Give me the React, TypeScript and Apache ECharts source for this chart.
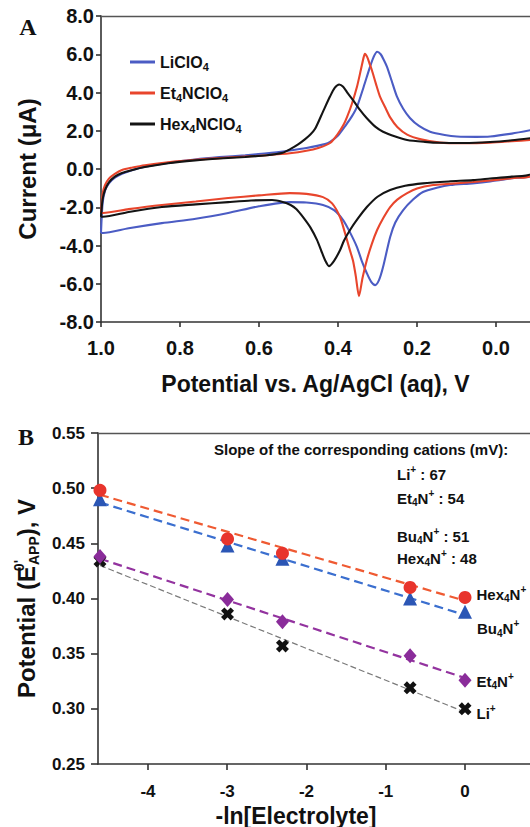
import React, { useEffect, useRef } from 'react';
import * as echarts from 'echarts';

const FONT = '"Liberation Sans", Arial, Helvetica, sans-serif';
const SERIF = '"Liberation Serif", "Times New Roman", serif';

// ---------- Panel A : cyclic voltammograms ----------
const cvTicks = [1.0, 0.8, 0.6, 0.4, 0.2, 0.0];
const cvLegend = ['LiClO4', 'Et4NClO4', 'Hex4NClO4'];

// upper branches (V, µA), from 1.0 V towards -0.09 V
const liUpper = [[1.0,-3.35],[0.996,-1.8],[0.99,-1.15],[0.98,-0.75],[0.965,-0.45],[0.947,-0.25],[0.92,-0.05],[0.889,0.12],[0.83,0.32],[0.762,0.5],[0.7,0.62],[0.635,0.72],[0.58,0.82],[0.522,0.97],[0.48,1.1],[0.433,1.3],[0.42,1.42],[0.4,1.75],[0.38,2.3],[0.365,2.75],[0.352,3.25],[0.335,4.3],[0.319,5.34],[0.31,5.85],[0.301,6.13],[0.292,6.0],[0.284,5.7],[0.276,5.34],[0.264,4.6],[0.251,3.8],[0.235,3.15],[0.218,2.67],[0.195,2.25],[0.167,1.95],[0.13,1.78],[0.099,1.7],[0.05,1.68],[0.015,1.7],[-0.04,1.85],[-0.09,2.04]];
const etUpper = [[1.0,-2.3],[0.996,-1.3],[0.99,-0.85],[0.98,-0.5],[0.965,-0.25],[0.947,-0.05],[0.92,0.08],[0.889,0.2],[0.83,0.35],[0.762,0.48],[0.7,0.57],[0.635,0.65],[0.58,0.72],[0.522,0.82],[0.48,0.95],[0.45,1.1],[0.42,1.36],[0.4,1.85],[0.385,2.35],[0.377,2.72],[0.365,3.4],[0.352,4.3],[0.342,5.2],[0.335,5.85],[0.332,6.02],[0.326,5.85],[0.32,5.5],[0.314,5.15],[0.304,4.45],[0.294,3.8],[0.28,3.2],[0.268,2.7],[0.25,2.2],[0.225,1.8],[0.19,1.55],[0.142,1.38],[0.08,1.35],[0.015,1.38],[-0.04,1.45],[-0.09,1.52]];
const hexUpper = [[1.0,-2.5],[0.996,-1.6],[0.99,-1.1],[0.98,-0.7],[0.965,-0.4],[0.947,-0.21],[0.92,-0.05],[0.889,0.1],[0.83,0.3],[0.762,0.45],[0.7,0.55],[0.635,0.63],[0.58,0.72],[0.54,0.85],[0.52,1.05],[0.5,1.3],[0.484,1.55],[0.47,1.8],[0.458,2.1],[0.438,3.0],[0.42,3.8],[0.408,4.25],[0.397,4.42],[0.387,4.3],[0.375,3.95],[0.362,3.6],[0.345,3.1],[0.327,2.65],[0.305,2.2],[0.286,1.95],[0.255,1.7],[0.225,1.52],[0.18,1.42],[0.142,1.37],[0.08,1.36],[0.015,1.41],[-0.04,1.5],[-0.09,1.62]];

// lower branches (V, µA), from -0.09 V back to 1.0 V
const liLower = [[-0.09,-0.3],[-0.04,-0.48],[0.015,-0.65],[0.06,-0.75],[0.116,-0.84],[0.15,-0.98],[0.185,-1.2],[0.21,-1.6],[0.235,-2.15],[0.255,-2.8],[0.268,-3.56],[0.286,-5.13],[0.296,-5.8],[0.306,-6.07],[0.316,-5.9],[0.327,-5.45],[0.34,-4.8],[0.352,-4.08],[0.37,-3.3],[0.387,-2.67],[0.41,-2.15],[0.438,-1.88],[0.48,-1.75],[0.522,-1.73],[0.6,-1.95],[0.678,-2.3],[0.76,-2.6],[0.846,-2.83],[0.93,-3.1],[0.995,-3.35],[1.0,-3.35]];
const etLower = [[-0.09,-0.3],[-0.04,-0.48],[0.015,-0.6],[0.058,-0.68],[0.12,-0.78],[0.159,-0.84],[0.2,-1.02],[0.225,-1.26],[0.25,-1.6],[0.268,-1.99],[0.285,-2.55],[0.301,-3.19],[0.315,-3.95],[0.327,-4.76],[0.338,-5.7],[0.347,-6.65],[0.355,-5.6],[0.362,-4.8],[0.37,-4.24],[0.383,-3.3],[0.395,-2.51],[0.415,-1.8],[0.438,-1.47],[0.48,-1.3],[0.522,-1.26],[0.6,-1.38],[0.678,-1.52],[0.76,-1.7],[0.846,-1.88],[0.93,-2.1],[0.995,-2.3],[1.0,-2.3]];
const hexLower = [[-0.09,-0.2],[-0.04,-0.4],[0.015,-0.5],[0.058,-0.58],[0.12,-0.65],[0.185,-0.75],[0.23,-0.88],[0.268,-1.1],[0.3,-1.45],[0.327,-1.99],[0.35,-2.6],[0.37,-3.2],[0.385,-3.75],[0.395,-4.25],[0.41,-4.8],[0.423,-5.08],[0.432,-4.8],[0.442,-4.3],[0.453,-3.72],[0.47,-3.05],[0.489,-2.5],[0.505,-2.1],[0.52,-1.88],[0.54,-1.72],[0.567,-1.62],[0.62,-1.65],[0.678,-1.73],[0.76,-1.85],[0.846,-1.99],[0.93,-2.25],[0.995,-2.5],[1.0,-2.5]];

// ---------- Panel B : E0'app vs -ln[electrolyte] ----------
const lnConc = [-4.605, -2.996, -2.303, -0.693, 0];
const xTicksB = [-4, -3, -2, -1, 0];
const hexE = [0.498, 0.454, 0.441, 0.410, 0.401];
const buE = [0.490, 0.448, 0.436, 0.400, 0.388];
const etE = [0.438, 0.399, 0.379, 0.348, 0.326];
const liE = [0.434, 0.386, 0.357, 0.319, 0.300];
const fitX = [-4.605, 0];
const hexFit = [0.494, 0.398];
const buFit = [0.487, 0.385];
const etFit = [0.436, 0.328];
const liFit = [0.430, 0.297];
const slopeLabels = [
  ['Li', '', '67'],
  ['Et', '4', '54'],
  ['Bu', '4', '51'],
  ['Hex', '4', '48'],
];

const CROSS = 'path://M0,2.6L2.6,0L5,2.4L7.4,0L10,2.6L7.6,5L10,7.4L7.4,10L5,7.6L2.6,10L0,7.4L2.4,5Z';

const axisLineStyle = { color: '#333', width: 1.6 };

function buildOption() {
  const legendRich = {
    m: { fontSize: 16, fontWeight: 'bold', color: '#111', fontFamily: FONT },
    s: { fontSize: 11, fontWeight: 'bold', color: '#111', fontFamily: FONT, padding: [9, 0, 0, 0] },
  };
  const legendFmt = (n: string) =>
    n.split(/(\d)/).filter((t) => t !== '').map((t) => (/\d/.test(t) ? `{s|${t}}` : `{m|${t}}`)).join('');

  const annRich = {
    m: { fontSize: 15, fontWeight: 'bold', fill: '#111', fontFamily: FONT },
    s: { fontSize: 10, fontWeight: 'bold', fill: '#111', fontFamily: FONT, padding: [9, 0, 0, 0] },
    p: { fontSize: 10, fontWeight: 'bold', fill: '#111', fontFamily: FONT, padding: [0, 0, 10, 0] },
  };
  const lblRich = {
    m: { fontSize: 15, fontWeight: 'bold', color: '#111', fontFamily: FONT, textBorderWidth: 0 },
    s: { fontSize: 10, fontWeight: 'bold', color: '#111', fontFamily: FONT, padding: [9, 0, 0, 0], textBorderWidth: 0 },
    p: { fontSize: 10, fontWeight: 'bold', color: '#111', fontFamily: FONT, padding: [0, 0, 10, 0], textBorderWidth: 0 },
  };

  const cv = (name: string, up: number[][], lo: number[][], color: string) => ({
    name,
    type: 'line',
    xAxisIndex: 0,
    yAxisIndex: 0,
    data: [...up, ...lo],
    showSymbol: false,
    symbol: 'none',
    smooth: 0.25,
    lineStyle: { color, width: 2.1 },
    itemStyle: { color },
    z: 3,
  });

  const pts = (name: string, ys: number[], symbol: string, size: any, color: string, lbl: string, offset: number[]) => ({
    name,
    type: 'scatter',
    xAxisIndex: 2,
    yAxisIndex: 1,
    symbol,
    symbolSize: size,
    itemStyle: { color, opacity: 1 },
    z: 5,
    data: lnConc.map((x, i) =>
      i === lnConc.length - 1
        ? {
            value: [x, ys[i]],
            label: {
              show: true,
              position: 'right',
              distance: 5,
              offset,
              formatter: lbl,
              rich: lblRich,
              color: '#111',
              textBorderWidth: 0,
              opacity: 1,
            },
          }
        : [x, ys[i]]
    ),
  });

  const fit = (ys: number[], color: string, width: number, dash: number[]) => ({
    type: 'line',
    xAxisIndex: 2,
    yAxisIndex: 1,
    data: fitX.map((x, i) => [x, ys[i]]),
    symbol: 'none',
    showSymbol: false,
    lineStyle: { color, width, type: dash },
    z: 4,
  });

  const baseX = {
    type: 'value',
    splitLine: { show: false },
    axisLine: { show: true, onZero: false, lineStyle: axisLineStyle },
  };

  return {
    animation: false,
    backgroundColor: '#fff',
    textStyle: { fontFamily: FONT },
    grid: [
      { left: 101, top: 16, width: 429, height: 306, outerBoundsMode: 'none' },
      { left: 98, top: 433, width: 432, height: 331, outerBoundsMode: 'none' },
    ],
    legend: {
      data: cvLegend,
      orient: 'vertical',
      left: 130,
      top: 54,
      padding: 0,
      itemGap: 13,
      itemWidth: 25,
      itemHeight: 3,
      icon: 'rect',
      formatter: legendFmt,
      textStyle: { rich: legendRich, fontSize: 16, fontWeight: 'bold', color: '#111' },
      selectedMode: false,
    },
    xAxis: [
      {
        ...baseX,
        gridIndex: 0,
        inverse: true,
        min: -0.086,
        max: 1.0,
        axisTick: { show: true, customValues: cvTicks, length: 5, lineStyle: axisLineStyle },
        axisLabel: {
          customValues: cvTicks,
          formatter: (v: number) => v.toFixed(1),
          fontSize: 20,
          fontWeight: 'bold',
          color: '#111',
          margin: 16,
        },
        name: 'Potential vs. Ag/AgCl (aq), V',
        nameLocation: 'middle',
        nameGap: 50,
        nameTextStyle: { fontSize: 23, fontWeight: 'bold', color: '#111' },
      },
      {
        ...baseX,
        gridIndex: 0,
        position: 'top',
        inverse: true,
        min: -0.086,
        max: 1.0,
        axisLine: { show: true, onZero: false, lineStyle: { color: '#555', width: 1.4 } },
        axisTick: { show: false },
        axisLabel: { show: false },
      },
      {
        ...baseX,
        gridIndex: 1,
        min: -4.63,
        max: 0.82,
        axisTick: { show: true, customValues: xTicksB, length: 6, lineStyle: axisLineStyle },
        axisLabel: {
          customValues: xTicksB,
          formatter: (v: number) => String(v),
          fontSize: 17,
          fontWeight: 'bold',
          color: '#111',
          margin: 19,
        },
        name: '-ln[Electrolyte]',
        nameLocation: 'middle',
        nameGap: 40,
        nameTextStyle: { fontSize: 23, fontWeight: 'bold', color: '#111', padding: [0, 36, 0, 0] },
      },
      {
        ...baseX,
        gridIndex: 1,
        position: 'top',
        min: -4.63,
        max: 0.82,
        axisLine: { show: true, onZero: false, lineStyle: { color: '#555', width: 1.4 } },
        axisTick: { show: false },
        axisLabel: { show: false },
      },
    ],
    yAxis: [
      {
        type: 'value',
        gridIndex: 0,
        min: -8,
        max: 8,
        interval: 2,
        splitLine: { show: false },
        axisLine: { show: true, onZero: false, lineStyle: axisLineStyle },
        axisTick: { show: true, length: 5, lineStyle: axisLineStyle },
        axisLabel: { formatter: (v: number) => v.toFixed(1), fontSize: 20, fontWeight: 'bold', color: '#111', margin: 7 },
        name: 'Current (μA)',
        nameLocation: 'middle',
        nameGap: 62,
        nameTextStyle: { fontSize: 24, fontWeight: 'bold', color: '#111' },
      },
      {
        type: 'value',
        gridIndex: 1,
        min: 0.25,
        max: 0.55,
        interval: 0.05,
        splitLine: { show: false },
        axisLine: { show: true, onZero: false, lineStyle: axisLineStyle },
        axisTick: { show: true, length: 7, lineStyle: axisLineStyle },
        axisLabel: { formatter: (v: number) => v.toFixed(2), fontSize: 17, fontWeight: 'bold', color: '#111', margin: 13 },
        name: "{m|Potential (E}{sup|0'}{sub|APP}{m|), V}",
        nameLocation: 'middle',
        nameGap: 57,
        nameTextStyle: {
          fontSize: 24,
          fontWeight: 'bold',
          color: '#111',
          rich: {
            m: { fontSize: 24, fontWeight: 'bold', color: '#111', fontFamily: FONT },
            sup: { fontSize: 14, fontWeight: 'bold', color: '#111', fontFamily: FONT, padding: [0, 0, 15, 0], width: 1 },
            sub: { fontSize: 14, fontWeight: 'bold', color: '#111', fontFamily: FONT, padding: [15, 0, 0, 0] },
          },
        },
      },
    ],
    graphic: [
      { type: 'text', x: 28, y: 27, style: { text: 'A', fontSize: 24, fontWeight: 'bold', fontFamily: SERIF, fill: '#111', align: 'center', verticalAlign: 'middle' } },
      { type: 'text', x: 26, y: 437, style: { text: 'B', fontSize: 24, fontWeight: 'bold', fontFamily: SERIF, fill: '#111', align: 'center', verticalAlign: 'middle' } },
      { type: 'text', x: 214, y: 449, style: { text: 'Slope of the corresponding cations (mV):', fontSize: 15, fontWeight: 'bold', fontFamily: FONT, fill: '#111', verticalAlign: 'middle' } },
      ...slopeLabels.map((s, i) => ({
        type: 'text',
        x: 397,
        y: [474, 498, 536, 558][i],
        style: {
          text: `{m|${s[0]}}${s[1] ? `{s|${s[1]}}{m|N}` : ''}{p|+}{m| : ${s[2]}}`,
          rich: annRich,
          verticalAlign: 'middle',
          fill: '#111',
        },
      })),
    ],
    series: [
      cv('LiClO4', liUpper, liLower, '#4b5cc4'),
      cv('Et4NClO4', etUpper, etLower, '#e8452c'),
      cv('Hex4NClO4', hexUpper, hexLower, '#141414'),
      fit(liFit, '#7a7a7a', 1.2, [6, 3]),
      fit(etFit, '#93339f', 2.2, [9, 5]),
      fit(buFit, '#3b6fcf', 2.2, [9, 5]),
      fit(hexFit, '#ef5a32', 2.2, [9, 5]),
      pts('Li+', liE, CROSS, 13, '#111', '{m|Li}{p|+}', [0, 5]),
      pts('Et4N+', etE, 'diamond', [13, 15], '#8a2c9a', '{m|Et}{s|4}{m|N}{p|+}', [0, 1]),
      pts('Bu4N+', buE, 'triangle', 14, '#2b56b5', '{m|Bu}{s|4}{m|N}{p|+}', [0, 17]),
      pts('Hex4N+', hexE, 'circle', 13, '#e8342c', '{m|Hex}{s|4}{m|N}{p|+}', [0, -3]),
    ],
  };
}

export default function App() {
  const ref = useRef<HTMLDivElement>(null);
  useEffect(() => {
    document.body.style.margin = '0';
    const chart = echarts.init(ref.current as HTMLDivElement, null, { renderer: 'svg' });
    chart.setOption(buildOption() as any);
    return () => chart.dispose();
  }, []);
  return <div ref={ref} style={{ width: 530, height: 827 }} />;
}
